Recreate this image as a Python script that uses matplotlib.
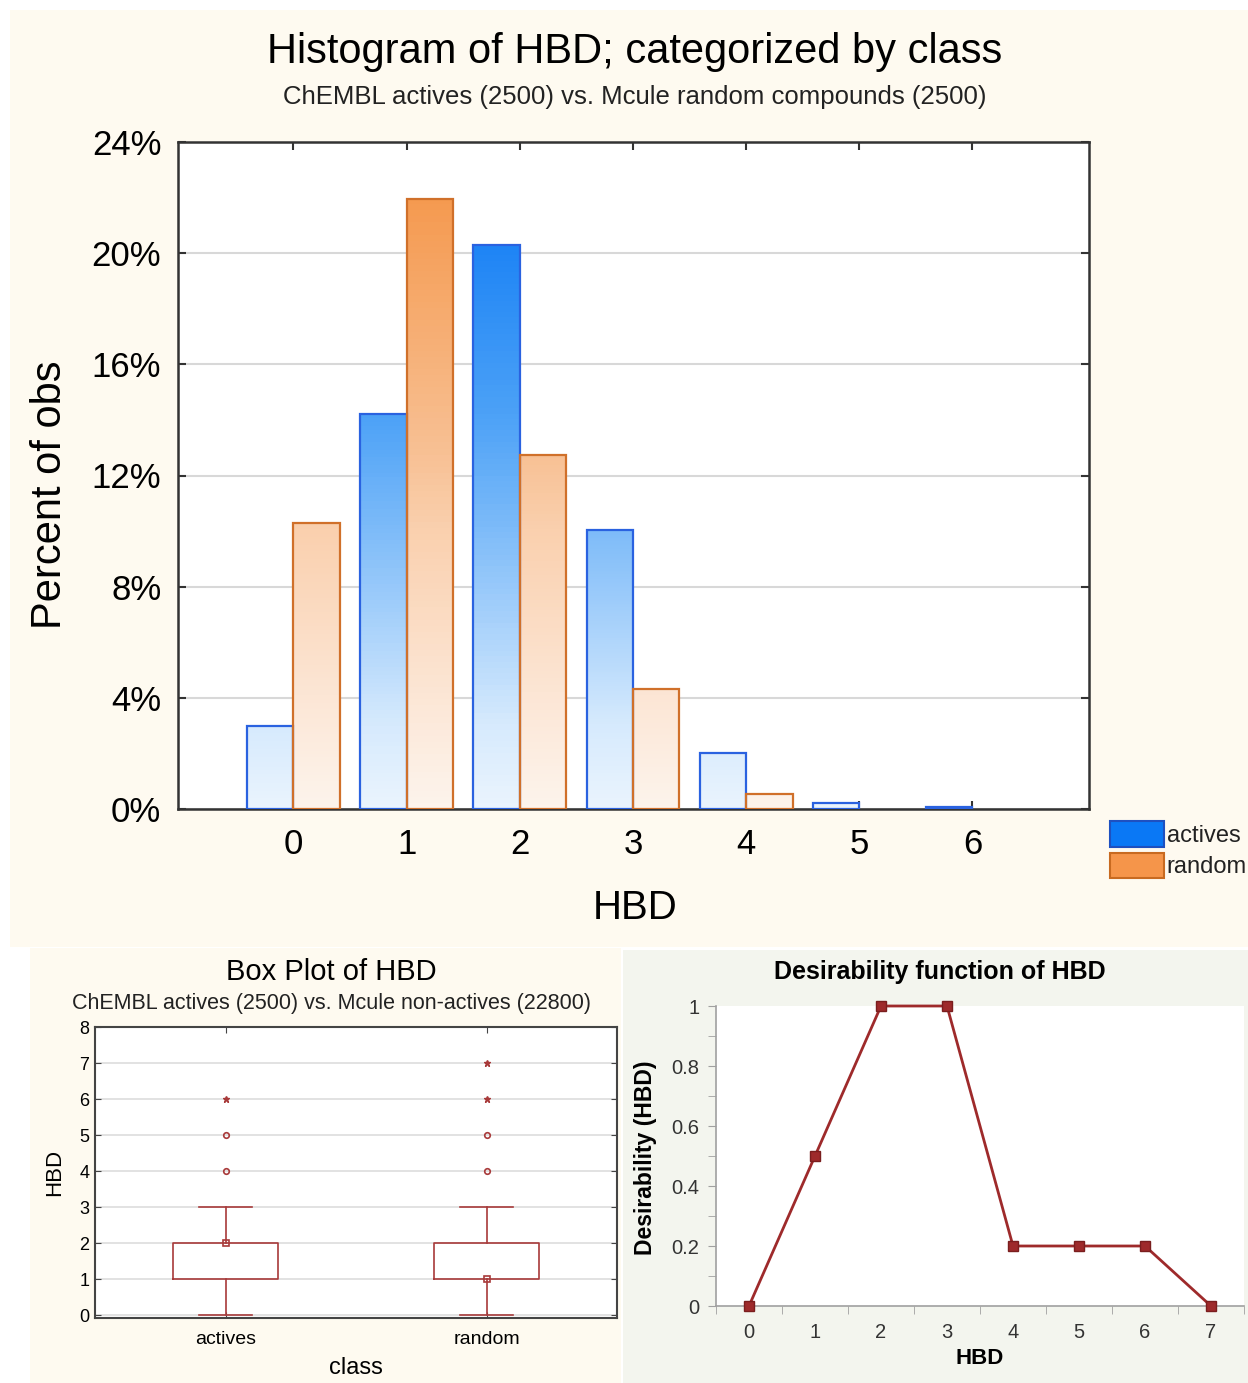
import numpy as np
import matplotlib
matplotlib.use("Agg")
from matplotlib import pyplot as plt
from matplotlib.colors import LinearSegmentedColormap
from matplotlib.patches import Rectangle, Patch

plt.rcParams['font.family'] = ['Liberation Sans', 'DejaVu Sans']

# histogram data (percent of obs)
hbd_bins = [0, 1, 2, 3, 4, 5, 6]
actives_pct = [3.0, 14.2, 20.3, 10.05, 2.0, 0.2, 0.07]
random_pct = [10.3, 21.95, 12.75, 4.3, 0.55, 0.0, 0.0]
pct_ticks = [0, 4, 8, 12, 16, 20, 24]

# box plot data
box_classes = ['actives', 'random']
box_q1 = [1, 1]
box_q3 = [2, 2]
box_med = [2, 1]
box_lo = [0, 0]
box_hi = [3, 3]
box_outliers = [[4, 5], [4, 5]]
box_extremes = [[6], [6, 7]]

# desirability function
des_x = [0, 1, 2, 3, 4, 5, 6, 7]
des_y = [0, 0.5, 1, 1, 0.2, 0.2, 0.2, 0]

W, H = 1248, 1383
fig = plt.figure(figsize=(W / 100, H / 100), dpi=100, facecolor='white')


def px_rect(x0, y0, x1, y1, color):
    fig.patches.append(Rectangle((x0 / W, 1 - y1 / H), (x1 - x0) / W, (y1 - y0) / H,
                                 transform=fig.transFigure, facecolor=color,
                                 edgecolor='none', zorder=-10))


def px_axes(x0, y0, x1, y1):
    return fig.add_axes([x0 / W, 1 - y1 / H, (x1 - x0) / W, (y1 - y0) / H])


px_rect(10, 10, 1248, 947, '#FEFAF0')
px_rect(30, 948, 621, 1383, '#FEFAF0')
px_rect(623, 950, 1248, 1383, '#F3F5EE')

# ---------- histogram ----------
ax = px_axes(178, 142, 1089, 809)
blue_cm = LinearSegmentedColormap.from_list('b', [(0, '#EAF4FE'), (0.125, '#D6EAFD'), (0.42, '#7DBBF9'),
                                                  (0.59, '#4DA2F7'), (0.85, '#1E84F5'), (1, '#1479F0')])
orange_cm = LinearSegmentedColormap.from_list('o', [(0, '#FDF4EC'), (0.17, '#FCE6D5'), (0.42, '#FAD0AE'),
                                                    (0.53, '#F8C195'), (0.92, '#F59A50'), (1, '#F39448')])
bw = 0.41
x = np.array(hbd_bins)
for vals, off, cm, ec in [(actives_pct, -bw, blue_cm, '#2A62E0'), (random_pct, 0, orange_cm, '#D0702A')]:
    bars = ax.bar(x + off, vals, width=bw, align='edge', facecolor='none', edgecolor=ec, linewidth=1.6, zorder=3)
    for b, v in zip(bars, vals):
        if v <= 0:
            b.set_visible(False)
            continue
        grad = np.linspace(0, v / 24, 100).reshape(-1, 1)
        im = ax.imshow(grad, extent=[b.get_x(), b.get_x() + bw, 0, v], origin='lower', cmap=cm,
                       vmin=0, vmax=1, aspect='auto', zorder=2)
        im.set_clip_path(b)

ax.set_xlim(-1.02, 7.03)
ax.set_ylim(0, 24)
ax.set_yticks(pct_ticks)
ax.set_yticklabels([f'{t}%' for t in pct_ticks], fontsize=25)
ax.set_xticks(hbd_bins)
ax.set_xticklabels([str(b) for b in hbd_bins], fontsize=25)
ax.tick_params(axis='both', direction='in', length=6, width=1.5, color='#333333', top=True, right=True)
ax.tick_params(axis='y', pad=12)
ax.tick_params(axis='x', pad=14)
ax.grid(axis='y', color='#D8D8D8', linewidth=1.5, zorder=0)
for s in ax.spines.values():
    s.set_color('#333333')
    s.set_linewidth(1.8)
ax.set_facecolor('white')
fig.text(635 / W, 1 - 52 / H, 'Histogram of HBD; categorized by class', ha='center', va='center', fontsize=30)
fig.text(635 / W, 1 - 97 / H, 'ChEMBL actives (2500) vs. Mcule random compounds (2500)', ha='center', va='center',
         fontsize=18.5, color='#222222')
fig.text(50 / W, 1 - 495 / H, 'Percent of obs', rotation=90, ha='center', va='center', fontsize=30)
fig.text(635 / W, 1 - 908 / H, 'HBD', ha='center', va='center', fontsize=29)
handles = [Patch(facecolor='#0A78F5', edgecolor='#1E50C0', linewidth=1.5, label='actives'),
           Patch(facecolor='#F5954A', edgecolor='#C86A20', linewidth=1.5, label='random')]
fig.legend(handles=handles, loc='upper left', bbox_to_anchor=(1110 / W, 1 - 821 / H), frameon=False,
           fontsize=17, handlelength=2.3, handleheight=1.3, handletextpad=0.1, labelspacing=0.25,
           borderpad=0, borderaxespad=0, labelcolor='#222222')

# ---------- box plot ----------
bx = px_axes(95, 1027, 617, 1318)
red = '#A83A3A'
stats = []
for i in range(len(box_classes)):
    stats.append(dict(med=box_med[i], q1=box_q1[i], q3=box_q3[i], whislo=box_lo[i], whishi=box_hi[i],
                      fliers=box_outliers[i], label=box_classes[i]))
pos = [1, 2]
bx.bxp(stats, positions=pos, widths=0.4, showfliers=True,
       boxprops=dict(color=red, linewidth=1.2), whiskerprops=dict(color=red, linewidth=1.2),
       capprops=dict(color=red, linewidth=1.2), medianprops=dict(visible=False),
       flierprops=dict(marker='o', markersize=4, markerfacecolor='none', markeredgecolor=red, markeredgewidth=1.2),
       capwidths=0.2)
bx.plot(pos, box_med, 's', markersize=4, markerfacecolor='none', markeredgecolor=red, markeredgewidth=1.2, zorder=4)
for p, ext in zip(pos, box_extremes):
    bx.plot([p] * len(ext), ext, '*', markersize=5, color=red, zorder=4)
bx.set_xlim(0.5, 2.5)
bx.set_ylim(-0.08, 8)
bx.set_yticks(range(9))
bx.set_yticklabels([str(i) for i in range(9)], fontsize=13)
bx.set_xticks(pos)
bx.set_xticklabels(box_classes, fontsize=14)
bx.tick_params(axis='both', direction='in', length=4, color='#444444', top=True, right=True, pad=4)
bx.tick_params(axis='x', pad=9)
bx.grid(axis='y', color='#DDDDDD', linewidth=1.2, zorder=0)
bx.set_axisbelow(True)
for s in bx.spines.values():
    s.set_color('#444444')
    s.set_linewidth(1.5)
bx.set_facecolor('white')
fig.text(331 / W, 1 - 972 / H, 'Box Plot of HBD', ha='center', va='center', fontsize=21)
fig.text(331 / W, 1 - 1003 / H, 'ChEMBL actives (2500) vs. Mcule non-actives (22800)', ha='center', va='center',
         fontsize=15.5, color='#222222')
fig.text(55 / W, 1 - 1172 / H, 'HBD', rotation=90, ha='center', va='center', fontsize=16)
fig.text(356 / W, 1 - 1368 / H, 'class', ha='center', va='center', fontsize=17)

# ---------- desirability ----------
dx = px_axes(716, 1006, 1244, 1306)
dx.plot(des_x, des_y, color='#9E2A2B', linewidth=2, marker='s', markersize=7.5,
        markerfacecolor='#9E2A2B', markeredgecolor='#7A1E1E', clip_on=False, zorder=3)
dx.set_xlim(-0.5, 7.5)
dx.set_ylim(0, 1)
dx.set_xticks(des_x)
dx.set_xticklabels([str(v) for v in des_x], fontsize=14.5, color='#333333')
dx.set_xticks(np.arange(-0.5, 7.6, 1), minor=True)
dx.tick_params(axis='x', which='major', length=0, pad=12)
dx.tick_params(axis='x', which='minor', length=6, color='#A0A0A0', direction='out')
dx.set_yticks([0, 0.2, 0.4, 0.6, 0.8, 1])
dx.set_yticklabels(['0', '0.2', '0.4', '0.6', '0.8', '1'], fontsize=14.5, color='#333333')
dx.set_yticks(np.arange(0.1, 1, 0.2), minor=True)
dx.tick_params(axis='y', which='both', length=6, color='#A0A0A0', direction='out', pad=6)
for s in ['top', 'right']:
    dx.spines[s].set_visible(False)
for s in ['left', 'bottom']:
    dx.spines[s].set_color('#A0A0A0')
    dx.spines[s].set_linewidth(1.2)
dx.set_facecolor('white')
fig.text(940 / W, 1 - 972 / H, 'Desirability function of HBD', ha='center', va='center', fontsize=18,
         fontweight='bold')
fig.text(645 / W, 1 - 1158 / H, 'Desirability (HBD)', rotation=90, ha='center', va='center', fontsize=16.5,
         fontweight='bold')
fig.text(980 / W, 1 - 1358 / H, 'HBD', ha='center', va='center', fontsize=16, fontweight='bold')

fig.savefig('out.png', dpi=100, facecolor='white')
